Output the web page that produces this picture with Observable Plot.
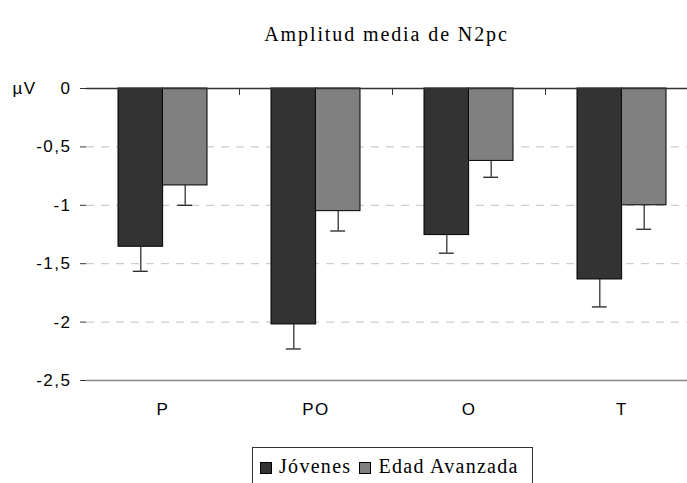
<!DOCTYPE html>
<html>
<head>
<meta charset="utf-8">
<script src="https://cdn.jsdelivr.net/npm/d3@7"></script>
<script src="https://cdn.jsdelivr.net/npm/@observablehq/plot@0.6"></script>
<style>
  html, body { margin: 0; padding: 0; background: #fff; }
  body { width: 687px; height: 483px; overflow: hidden; }
  #title { height: 60px; box-sizing: border-box; padding-top: 24px; padding-left: 86px; text-align: center;
    font-family: "Liberation Serif", "Times New Roman", serif; font-size: 20px; line-height: 20px; letter-spacing: 1.9px; color: #000; }
  #chart svg text { letter-spacing: 1.5px; }
  #legend { margin-left: 252px; margin-top: 27px; width: 281px; height: 42px; box-sizing: border-box; border: 1px solid #333;
    font-family: "Liberation Serif", "Times New Roman", serif; font-size: 20px; letter-spacing: 1.3px; color: #000;
    padding-left: 7px; padding-top: 7px; white-space: nowrap; }
  .sw { display: inline-block; width: 10px; height: 10px; border: 1px solid #000; vertical-align: -1px; margin-right: 7px; }
  .item { display: inline-block; margin-right: 8px; }
</style>
</head>
<body>
<div id="title">Amplitud media de N2pc</div>
<div id="chart"></div>
<div id="legend"></div>
<script>
const categories = ["P", "PO", "O", "T"];
const series = ["Jóvenes", "Edad Avanzada"];
const jovenes = [-1.355, -2.02, -1.255, -1.635];
const edad = [-0.83, -1.05, -0.62, -1.0];
const errJovenes = [0.21, 0.21, 0.155, 0.235];
const errEdad = [0.17, 0.17, 0.14, 0.205];
const yTicks = [0, -0.5, -1, -1.5, -2, -2.5];
const colors = ["#333333", "#808080"];

const rowsJ = categories.map((c, i) => ({cat: c, series: series[0], value: jovenes[i], err: errJovenes[i]}));
const rowsE = categories.map((c, i) => ({cat: c, series: series[1], value: edad[i], err: errEdad[i]}));

const W = 687, H = 360, mL = 86, mT = 28, mB = 40;
const xRange = [86, 698];
const xs = d3.scaleBand().domain(categories).range(xRange).paddingInner(0.42).paddingOuter(0.21);
const bw = xs.bandwidth(), step = xs.step();
const capHalf = 7.3;
const plotH = H - mT - mB;
const fmt = d => String(d).replace(".", ",");

const chart = Plot.plot({
  width: W, height: H,
  marginLeft: mL, marginRight: 0, marginTop: mT, marginBottom: mB,
  style: {fontFamily: "'Liberation Sans', Arial, sans-serif", fontSize: "17px", color: "#000", background: "#fff"},
  x: {type: "band", domain: categories, range: xRange, paddingInner: 0.42, paddingOuter: 0.21},
  y: {domain: [d3.min(yTicks), d3.max(yTicks)]},
  marks: [
    Plot.ruleY(yTicks.slice(1, -1), {stroke: "#c0c0c0", strokeDasharray: "8,7", strokeWidth: 1}),
    Plot.barY(rowsJ, {x: "cat", y: "value", fill: colors[0], stroke: "#000", strokeWidth: 1, insetRight: bw / 2}),
    Plot.barY(rowsE, {x: "cat", y: "value", fill: colors[1], stroke: "#000", strokeWidth: 1, insetLeft: bw / 2}),
    Plot.ruleX(rowsJ, {x: "cat", y1: "value", y2: d => d.value - d.err, dx: -bw / 4, stroke: "#222", strokeWidth: 1.2}),
    Plot.ruleX(rowsE, {x: "cat", y1: "value", y2: d => d.value - d.err, dx: bw / 4, stroke: "#222", strokeWidth: 1.2}),
    Plot.tickY(rowsJ, {x: "cat", y: d => d.value - d.err, insetLeft: bw / 4 - capHalf, insetRight: bw * 3 / 4 - capHalf, stroke: "#222", strokeWidth: 1.3}),
    Plot.tickY(rowsE, {x: "cat", y: d => d.value - d.err, insetLeft: bw * 3 / 4 - capHalf, insetRight: bw / 4 - capHalf, stroke: "#222", strokeWidth: 1.3}),
    Plot.ruleY([d3.min(yTicks)], {stroke: "#888", strokeWidth: 1.3}),
    Plot.ruleX(categories, {x: d => d, dx: step / 2, insetBottom: plotH - 7, stroke: "#333", strokeWidth: 1}),
    Plot.ruleY([0], {stroke: "#333", strokeWidth: 1.3}),
    Plot.axisY({ticks: yTicks, tickFormat: fmt, tickSize: 6, tickPadding: 9, line: true, stroke: "#333", label: null, fontSize: 17}),
    Plot.axisX({anchor: "bottom", tickSize: 0, tickPadding: 22, label: null, fontSize: 17}),
    Plot.text(["µV"], {frameAnchor: "top-left", dx: -74, textAnchor: "start", lineAnchor: "middle", fontSize: 17})
  ]
});
document.getElementById("chart").appendChild(chart);

const legend = document.getElementById("legend");
series.forEach((s, i) => {
  const item = document.createElement("span");
  item.className = "item";
  const sw = document.createElement("span");
  sw.className = "sw";
  sw.style.background = colors[i];
  item.appendChild(sw);
  item.appendChild(document.createTextNode(s));
  legend.appendChild(item);
});
</script>
</body>
</html>
